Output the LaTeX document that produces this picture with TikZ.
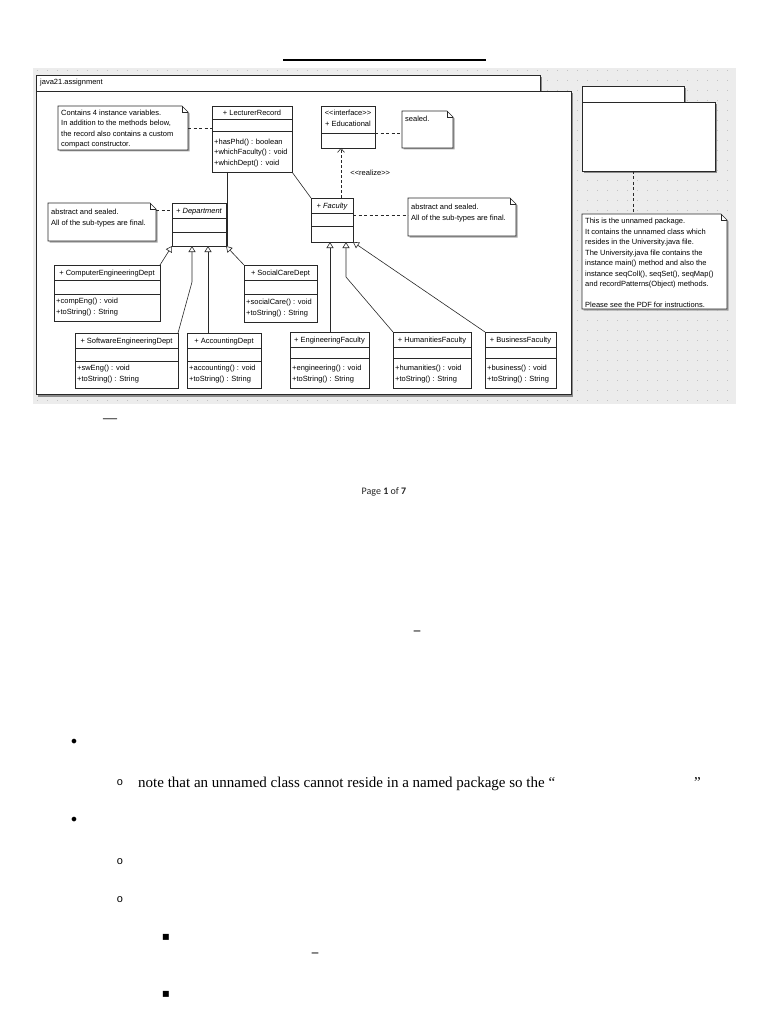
\documentclass[tikz,border=0pt]{standalone}
\usepackage{fontspec}
\setmainfont{Liberation Sans}
\newfontfamily\serifface{Liberation Serif}
\newfontfamily\monoface{Liberation Mono}
\newfontfamily\carlface{Carlito}
\newfontfamily\dejaface{DejaVu Sans}
\usetikzlibrary{arrows.meta,calc,shadows}
\definecolor{bggray}{RGB}{236,236,236}
\definecolor{gridcol}{RGB}{196,196,196}
\definecolor{linecol}{RGB}{40,40,40}

\tikzset{
  umlfont/.style={font=\fontsize{7.5}{10.5}\selectfont},
  clsbox/.style={draw=linecol, fill=white, line width=0.6pt, inner sep=0pt, outer sep=0pt,
    drop shadow={shadow xshift=1.2pt, shadow yshift=-1.2pt, fill=black!30, opacity=1}},
  pkgbox/.style={draw=linecol, fill=white, line width=0.7pt, inner sep=0pt, outer sep=0pt,
    drop shadow={shadow xshift=2pt, shadow yshift=-2.5pt, fill=black!45, opacity=1}},
  anchorbox/.style={inner sep=0pt, outer sep=0pt},
  notebox/.style={draw=linecol, fill=white, line width=0.6pt,
    preaction={fill=black!35, transform canvas={shift={(1.5pt,-1.5pt)}}}},
  sepline/.style={draw=linecol, line width=0.6pt},
  hdr/.style={umlfont, inner sep=0pt},
  mth/.style={umlfont, inner sep=0pt, align=left},
  notetxt/.style={umlfont, inner sep=0pt, align=left},
  dashlink/.style={draw=linecol, line width=0.6pt, dash pattern=on 3pt off 2.5pt},
  assoc/.style={draw=linecol, line width=0.6pt},
  gen/.style={draw=linecol, line width=0.6pt, -{Triangle[length=6pt,width=7pt,fill=white,line width=0.6pt]}},
  realizeln/.style={draw=linecol, line width=0.9pt, dash pattern=on 3pt off 2pt,
    -{Straight Barb[length=4pt,width=7pt,line width=0.6pt]}},
  pagetxt/.style={font=\serifface\fontsize{15}{18}\selectfont, inner sep=0pt},
  glyph/.style={inner sep=0pt},
}

% id, x, y, w, h, sep1, sep2, header, methods
\newcommand{\umlcls}[9]{%
  \node[clsbox, minimum width=#4pt, minimum height=#5pt, anchor=north west] (#1) at (#2,#3) {};
  \draw[sepline] ([yshift=-#6pt]#1.north west) -- ([yshift=-#6pt]#1.north east);
  \draw[sepline] ([yshift=-#7pt]#1.north west) -- ([yshift=-#7pt]#1.north east);
  \node[hdr, anchor=base] at ($(#1.north)+(0,#6/2+2.7)$) {#8};
  \node[mth, anchor=south west] at ($(#1.south west)+(2,-5.2)$) {#9};
}
% id, x, y, w, h, text offset, text
\newcommand{\umlnote}[7]{%
  \node[anchorbox, minimum width=#4pt, minimum height=#5pt, anchor=north west] (#1) at (#2,#3) {};
  \draw[notebox] (#1.north west) -- ([xshift=-6pt]#1.north east) -- ([yshift=-6pt]#1.north east)
     -- (#1.south east) -- (#1.south west) -- cycle;
  \draw[sepline] ([xshift=-6pt]#1.north east) -- ([xshift=-6pt,yshift=-6pt]#1.north east)
     -- ([yshift=-6pt]#1.north east);
  \node[notetxt, anchor=north west] at ($(#1.north west)+(3,#6)$) {#7};
}

\begin{document}
\begin{tikzpicture}[x=1pt,y=-1pt]
\useasboundingbox (0,0) rectangle (768,1024);
\fill[white] (0,0) rectangle (768,1024);

% title underline
\draw[line width=2pt] (283,60) -- (486,60);

% canvas background with dot grid
\fill[bggray] (33,68) rectangle (736,404);
\foreach \gx in {37,47,...,733} {
  \draw[gridcol, line width=0.9pt, dash pattern=on 0.9pt off 9.1pt] (\gx,70) -- (\gx,404);
}

% package java21.assignment
\node[pkgbox, minimum width=504pt, minimum height=16pt, anchor=north west] (pkgtab) at (36,75) {};
\node[pkgbox, minimum width=535pt, minimum height=303pt, anchor=north west] (pkg) at (36,91) {};
\node[umlfont, inner sep=0pt, anchor=west] (pkglabel) at ([xshift=4pt]pkgtab.west) {java21.assignment};

% unnamed package
\node[pkgbox, minimum width=102pt, minimum height=16pt, anchor=north west] (upkgtab) at (582,86) {};
\node[pkgbox, minimum width=133pt, minimum height=69pt, anchor=north west] (upkg) at (582,102) {};

% notes
\umlnote{n1}{58}{106}{130}{44}{3.5}{Contains 4 instance variables.\\In addition to the methods below,\\the record also contains a custom\\compact constructor.}
\umlnote{n2}{48}{203}{108}{38}{6}{abstract and sealed.\\All of the sub-types are final.}
\umlnote{n3}{402}{111}{51}{37}{5}{sealed.}
\umlnote{n4}{408}{198}{108}{38}{6}{abstract and sealed.\\All of the sub-types are final.}
\umlnote{n5}{582}{214}{145}{95}{4.2}{This is the unnamed package.\\It contains the unnamed class which\\resides in the University.java file.\\The University.java file contains the\\instance main() method and also the\\instance seqColl(), seqSet(), seqMap()\\and recordPatterns(Object) methods.\\[10.5pt]Please see the PDF for instructions.}

% classes
\umlcls{lr}{212}{106}{80}{66}{13}{25}{+ LecturerRecord}{+hasPhd() : boolean\\+whichFaculty() : void\\+whichDept() : void}

\node[clsbox, minimum width=54pt, minimum height=42pt, anchor=north west] (edu) at (321,106) {};
\draw[sepline] ([yshift=-27pt]edu.north west) -- ([yshift=-27pt]edu.north east);
\node[hdr, align=center, anchor=north] (edutxt) at ($(edu.north)+(0,4)$) {<{}<interface>{}>\\+ Educational};

\umlcls{dep}{172}{203}{54}{43}{15}{29}{\itshape + Department}{}
\umlcls{fac}{311}{198}{42}{44}{15}{28}{\itshape + Faculty}{}

\umlcls{ce}{54}{265}{106}{56}{15}{29}{+ ComputerEngineeringDept}{+compEng() : void\\+toString() : String}
\umlcls{sc}{244}{265}{73}{57}{15}{29}{+ SocialCareDept}{+socialCare() : void\\+toString() : String}
\umlcls{sw}{75}{333}{103}{55}{15}{28}{+ SoftwareEngineeringDept}{+swEng() : void\\+toString() : String}
\umlcls{acc}{187}{333}{74}{55}{15}{28}{+ AccountingDept}{+accounting() : void\\+toString() : String}
\umlcls{ef}{290}{332}{79}{56}{15}{26}{+ EngineeringFaculty}{+engineering() : void\\+toString() : String}
\umlcls{hf}{393}{332}{78}{56}{15}{26}{+ HumanitiesFaculty}{+humanities() : void\\+toString() : String}
\umlcls{bf}{485}{332}{71}{56}{15}{26}{+ BusinessFaculty}{+business() : void\\+toString() : String}

% note links
\draw[dashlink] (n1.east) -- (n1.east -| lr.west);
\draw[dashlink] ([yshift=-7pt]n2.north east) -- ([yshift=-7pt]n2.north east -| dep.west);
\draw[dashlink] ([yshift=-27pt]edu.north east) -- ([yshift=-27pt]edu.north east -| n3.west);
\draw[dashlink] ([yshift=-17pt]fac.north east) -- ([yshift=-17pt]fac.north east -| n4.west);
\draw[dashlink] ([xshift=51pt]upkg.south west) -- ([xshift=51pt]upkg.south west |- n5.north);

% associations
\draw[assoc] ([xshift=15pt]lr.south west) -- ([xshift=1pt]dep.south east);
\draw[assoc] (lr.south east) -- (fac.north west);

% realization
\draw[realizeln] ([xshift=30pt]fac.north west) -- ([xshift=20pt]edu.south west)
  node[pos=0.5, right=9pt, umlfont, inner sep=0pt] (reallbl) {<{}<realize>{}>};

% generalizations to Department
\draw[gen] (ce.north east) -- (dep.south west);
\draw[gen] (sw.north east) -- ++(14,-51) -- ([xshift=20pt]dep.south west);
\draw[gen] ([xshift=21pt]acc.north west) -- ([xshift=36pt]dep.south west);
\draw[gen] (sc.north west) -- (dep.south east);

% generalizations to Faculty
\draw[gen] ([xshift=40pt]ef.north west) -- ([xshift=19pt]fac.south west);
\draw[gen] (hf.north west) -- ++(-47,-55) -- ([xshift=35pt]fac.south west);
\draw[gen] (bf.north west) -- (fac.south east);

% lower page
\node[glyph, font=\serifface\bfseries\fontsize{14}{16}\selectfont, text=black!80] (dash0) at (110,421) {—};
\node[glyph, font=\carlface\fontsize{10}{12}\selectfont, text=black!85] (pagenum) at (384,492) {Page \textbf{1} of \textbf{7}};
\node[glyph, font=\serifface\bfseries\fontsize{13}{15}\selectfont] (dash1) at (417,633) {–};

\node[glyph, font=\dejaface\fontsize{16}{18}\selectfont] (b1) at (74,743) {•};
\node[glyph, font=\monoface\fontsize{11}{13}\selectfont] (o1) at (120,783) {o};
\node[pagetxt, anchor=base west] (line1) at (138,787.5) {note that an unnamed class cannot reside in a named package so the “};
\node[pagetxt, anchor=base west] (q1) at (694,787.5) {”};
\node[glyph, font=\dejaface\fontsize{16}{18}\selectfont] (b2) at (74,821) {•};
\node[glyph, font=\monoface\fontsize{11}{13}\selectfont] (o2) at (120,862) {o};
\node[glyph, font=\monoface\fontsize{11}{13}\selectfont] (o3) at (120,900) {o};
\node[glyph, font=\dejaface\fontsize{12}{14}\selectfont] (s1) at (166,937) {▪};
\node[glyph, font=\serifface\bfseries\fontsize{13}{15}\selectfont] (dash2) at (315,955) {–};
\node[glyph, font=\dejaface\fontsize{12}{14}\selectfont] (s2) at (166,994) {▪};
\end{tikzpicture}
\end{document}
